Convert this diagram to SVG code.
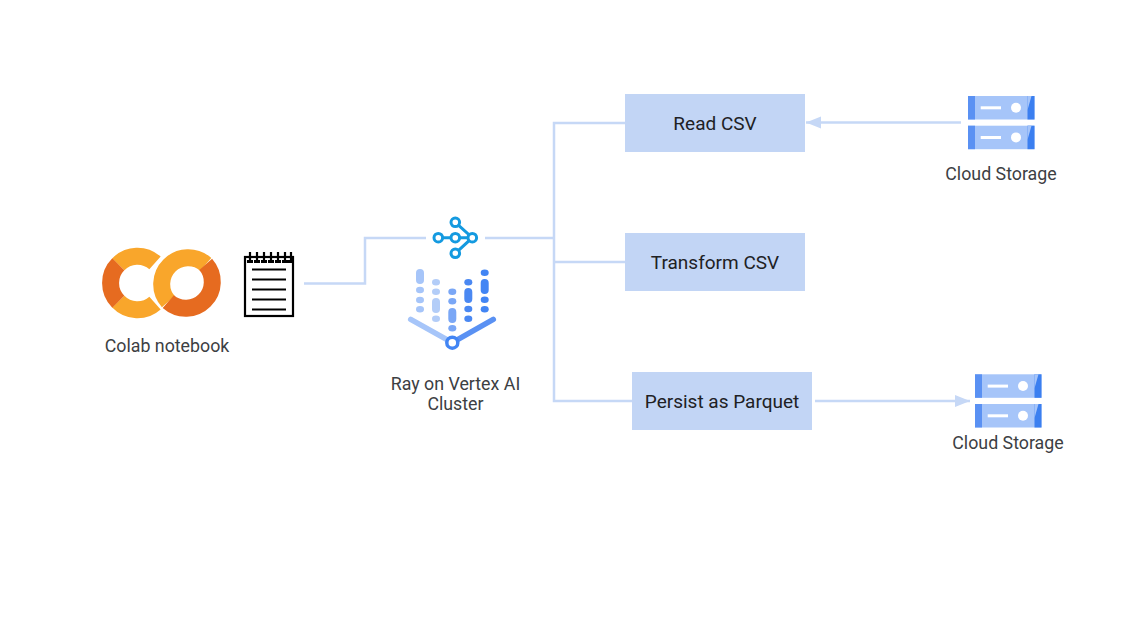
<svg xmlns="http://www.w3.org/2000/svg" width="1141" height="628" viewBox="0 0 1141 628">
<style>
text{font-family:Roboto,"Liberation Sans",sans-serif;text-anchor:middle}
.lbl{font-size:17.800px;fill:#3c4043}
.box{font-size:19px;fill:#202124}
.boxr{fill:#c2d5f5}
.con{fill:none;stroke:#c6d8f6;stroke-width:2.5}
.ring{fill:none;stroke-width:17}
.lo{stroke:#f9a62b}.do{stroke:#e66b20}
.rn{fill:#fff;stroke:#149ae0;stroke-width:3}
.rl{fill:none;stroke:#149ae0;stroke-width:3}
.nb{stroke:#000;stroke-width:2.200;fill:none}
.v{stroke-linecap:round;fill:none}
.c1{fill:#a6c5f9}.c2{fill:#b3cdf8}.c3{fill:#7aa7f6}.c4{fill:#4a88f2}.c5{fill:#4285f4}
</style>
<defs>
<marker id="ah" markerUnits="userSpaceOnUse" markerWidth="16" markerHeight="14" refX="15" refY="7" orient="auto"><path d="M0 1L15 7L0 13Z" fill="#c6d8f6"/></marker>
<g id="srv">
<rect width="66.500" height="23.500" fill="#a6c5f9"/>
<rect width="7" height="23.500" fill="#5a91f3"/>
<rect x="59.500" width="7" height="23.500" fill="#3b7ff0"/>
<path d="M59.500 23.500V14L63.500 0H59.500Z" fill="#a6c5f9"/>
<rect x="12.700" y="10.300" width="20.300" height="3" fill="#fff"/>
<circle cx="48" cy="11.700" r="5" fill="#fff"/>
</g>
</defs>
<rect width="1141" height="628" fill="#fff"/>
<g id="connectors">
<path class="con" d="M304 283.500H365V238H426"/>
<path class="con" d="M485 238H554"/>
<path class="con" d="M625 123H554V401H632"/>
<path class="con" d="M554 262H625"/>
<path class="con" d="M961 122.500H806" marker-end="url(#ah)"/>
<path class="con" d="M815 401H970" marker-end="url(#ah)"/>
</g>
<g id="colab">
<path class="ring lo" d="M155 262.900A26.500 26.500 0 0 0 118.300 264.300"/>
<path class="ring lo" d="M118.300 301.700A26.500 26.500 0 0 0 155 303.100"/>
<path class="ring do" d="M118.300 264.300A26.500 26.500 0 0 0 118.300 301.700"/>
<circle cx="187" cy="283" r="36.200" fill="#fff"/>
<path class="ring lo" d="M205.700 264.300A26.500 26.500 0 0 0 168.300 301.700"/>
<path class="ring do" d="M168.300 301.700A26.500 26.500 0 0 0 205.700 264.300"/>
</g>
<g id="notebook">
<rect class="nb" x="245" y="257" width="48" height="59"/>
<path class="nb" d="M252 269.500H286M252 279.500H286M252 289.500H286M252 299.500H286M252 309.500H286"/>
<path class="nb" stroke-width="2.500" d="M250 252V263M257 252V263M264 252V263M271 252V263M278 252V263M285 252V263M291 252V263"/>
<path d="M247 261.500h6M254 261.500h6M261 261.500h6M268 261.500h6M275 261.500h6M282 261.500h6M288 261.500h5" stroke="#000" stroke-width="3"/>
</g>
<text class="lbl" x="167" y="352">Colab notebook</text>
<g id="ray-cluster">
<path class="rl" d="M438.300 237.700H472.300M455.300 222.300L472.300 237.700L455.300 253.300"/>
<circle class="rn" cx="438.300" cy="237.700" r="4.300"/>
<circle class="rn" cx="455.300" cy="237.700" r="4.300"/>
<circle class="rn" cx="472.300" cy="237.700" r="4.300"/>
<circle class="rn" cx="455.300" cy="222.300" r="4.300"/>
<circle class="rn" cx="455.300" cy="253.300" r="4.300"/>
<g stroke="none">
<g class="c1"><rect x="416" y="269" width="8" height="15" rx="4"/><ellipse cx="420" cy="290" rx="4" ry="3.200"/><ellipse cx="420" cy="300" rx="4" ry="3.200"/><ellipse cx="420" cy="309.300" rx="4" ry="3.200"/></g>
<g class="c2"><ellipse cx="436" cy="282.300" rx="4" ry="3.200"/><ellipse cx="436" cy="291.700" rx="4" ry="3.200"/><rect x="432" y="298" width="8" height="15" rx="4"/><ellipse cx="436" cy="318.700" rx="4" ry="3.200"/></g>
<g class="c3"><ellipse cx="452.300" cy="291.700" rx="4" ry="3.200"/><ellipse cx="452.300" cy="301.300" rx="4" ry="3.200"/><rect x="448.300" y="308" width="8" height="15" rx="4"/><ellipse cx="452.300" cy="328.300" rx="4" ry="3.200"/></g>
<g class="c4"><ellipse cx="468.300" cy="282.300" rx="4" ry="3.200"/><rect x="464.300" y="288" width="8" height="15" rx="4"/><ellipse cx="468.300" cy="309" rx="4" ry="3.200"/><ellipse cx="468.300" cy="318.700" rx="4" ry="3.200"/></g>
<g class="c5"><ellipse cx="484.700" cy="272.700" rx="4" ry="3.200"/><rect x="480.700" y="279" width="8" height="15" rx="4"/><ellipse cx="484.700" cy="299.700" rx="4" ry="3.200"/><ellipse cx="484.700" cy="309.300" rx="4" ry="3.200"/></g>
</g>
<path class="v" stroke="#a6c5f9" stroke-width="5.500" d="M410.700 319.300L452.300 342.700"/>
<path class="v" stroke="#5a91f3" stroke-width="5.500" d="M493.300 319.300L452.300 342.700"/>
<circle cx="452.300" cy="342.700" r="5.500" fill="#fff" stroke="#4285f4" stroke-width="3.500"/>
</g>
<text class="lbl" x="455.500" y="389.500">Ray on Vertex AI</text>
<text class="lbl" x="455.500" y="409.500">Cluster</text>
<g id="read-csv"><rect class="boxr" x="625" y="94" width="180" height="58"/><text class="box" x="715" y="130">Read CSV</text></g>
<g id="transform-csv"><rect class="boxr" x="625" y="233" width="180" height="58"/><text class="box" x="715" y="269">Transform CSV</text></g>
<g id="persist-parquet"><rect class="boxr" x="632" y="372" width="180" height="58"/><text class="box" x="722" y="408">Persist as Parquet</text></g>
<g id="storage-in">
<use href="#srv" x="968" y="96"/><use href="#srv" x="968" y="125.700"/>
<text class="lbl" x="1001" y="180">Cloud Storage</text>
</g>
<g id="storage-out">
<use href="#srv" x="975" y="374.300"/><use href="#srv" x="975" y="404"/>
<text class="lbl" x="1008" y="449">Cloud Storage</text>
</g>
</svg>
